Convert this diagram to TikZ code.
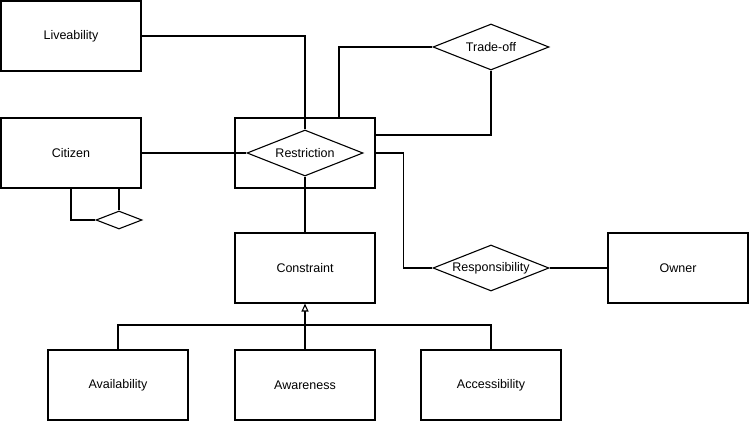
\documentclass[tikz,border=0pt]{standalone}
\usepackage{fontspec}
\setmainfont{Liberation Sans}
\usetikzlibrary{arrows.meta}
\usetikzlibrary{shapes.geometric}

\begin{document}
\begin{tikzpicture}[x=1pt,y=-1pt,line width=1.1pt,
  entity/.style={draw,minimum width=140pt,minimum height=70pt,inner sep=0pt},
  relation/.style={draw,diamond,aspect=2.5,minimum width=116pt,minimum height=46pt,inner sep=0pt},
  isa/.style={-{Triangle[open,length=8pt,width=7pt]}}]
  \fontsize{12.5}{15}\selectfont
  \useasboundingbox (0,0) rectangle (749,422);

  \node[entity] (live) at (71,36) {Liveability};
  \node[entity] (cit) at (71,153) {Citizen};
  \node[entity] (rbox) at (305,153) {};
  \node[relation] (rdia) at (305,153) {Restriction};
  \node[relation] (trade) at (491,47) {Trade-off};
  \node[draw,diamond,minimum width=46pt,minimum height=18pt,inner sep=0pt] (self) at (119,220) {};

  \node[entity] (cons) at (305,268) {Constraint};
  \node[relation] (resp) at (491,268) {Responsibility};
  \node[entity] (owner) at (678,268) {Owner};

  \node[entity] (avail) at (118,385) {Availability};
  \node[entity] (aware) at (305,385) {Awareness};
  \node[entity] (acc) at (491,385) {Accessibility};
  \coordinate (bus) at (305,325);

  \draw (live.east) -| (rdia.north);
  \draw (cit.east) -- (rdia.west);
  \draw (rdia.south) -- (cons.north);
  \draw ([xshift=34pt]rbox.north) |- (trade.west);
  \draw (trade.south) |- ([yshift=18pt]rbox.east);
  \draw (rbox.east) -- ++(28,0) |- (resp.west);
  \draw (resp.east) -- (owner.west);

  \draw (cit.south) |- (self.west);
  \draw (self.north) -- (self.north |- cit.south);

  \draw[isa] (aware.north) -- (cons.south);
  \draw (avail.north) |- (bus) -| (acc.north);
\end{tikzpicture}
\end{document}
